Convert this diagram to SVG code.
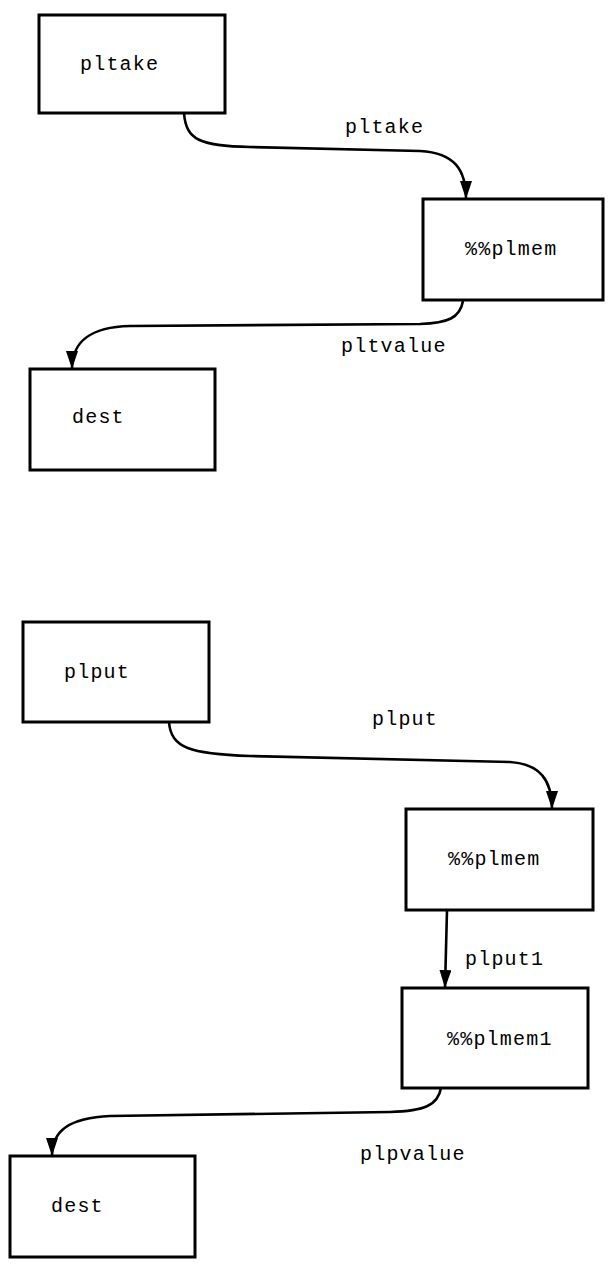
<svg xmlns="http://www.w3.org/2000/svg" width="612" height="1269" viewBox="0 0 612 1269">
<style>
.box{fill:#fff;stroke:#000;stroke-width:3}
.lbl{font-family:"Liberation Mono",monospace;font-size:20px;letter-spacing:1.2px;fill:#000}
.edge{fill:none;stroke:#000;stroke-width:2.6;marker-end:url(#ah)}
</style>
<defs>
<marker id="ah" markerUnits="userSpaceOnUse" markerWidth="18" markerHeight="12" refX="18" refY="6" orient="auto">
<path d="M0,0 L18,6 L0,12 z" fill="#000"/>
</marker>
</defs>
<rect width="612" height="1269" fill="#fff"/>
<g id="connectors">
<path class="edge" d="M184,113 C186,140 200,146 250,147 L420,151 C455,153 466,170 466,199"/>
<path class="edge" d="M463,301 C460,318 448,323 420,324 L130,326 C92,327 72,340 72,369"/>
<path class="edge" d="M169,722 C171,748 190,754 250,756 L510,762 C540,764 552,780 552,809"/>
<path class="edge" d="M447,910 L445,988"/>
<path class="edge" d="M441,1088 C438,1105 425,1111 390,1112 L110,1116 C70,1118 52,1130 52,1156"/>
<text class="lbl" x="345" y="133">pltake</text>
<text class="lbl" x="341" y="352">pltvalue</text>
<text class="lbl" x="372" y="725">plput</text>
<text class="lbl" x="465" y="965">plput1</text>
<text class="lbl" x="360" y="1160">plpvalue</text>
</g>
<g id="n_pltake"><rect class="box" x="39" y="15" width="186" height="98"/><text class="lbl" x="80" y="70">pltake</text></g>
<g id="n_plmem_a"><rect class="box" x="423" y="199" width="180" height="101"/><text class="lbl" x="465" y="255">%%plmem</text></g>
<g id="n_dest_a"><rect class="box" x="30" y="369" width="185" height="101"/><text class="lbl" x="72" y="423">dest</text></g>
<g id="n_plput"><rect class="box" x="23" y="622" width="186" height="100"/><text class="lbl" x="64" y="678">plput</text></g>
<g id="n_plmem_b"><rect class="box" x="406" y="809" width="187" height="101"/><text class="lbl" x="448" y="865">%%plmem</text></g>
<g id="n_plmem1"><rect class="box" x="402" y="988" width="186" height="100"/><text class="lbl" x="447" y="1045">%%plmem1</text></g>
<g id="n_dest_b"><rect class="box" x="10" y="1156" width="185" height="101"/><text class="lbl" x="51" y="1212">dest</text></g>
</svg>
